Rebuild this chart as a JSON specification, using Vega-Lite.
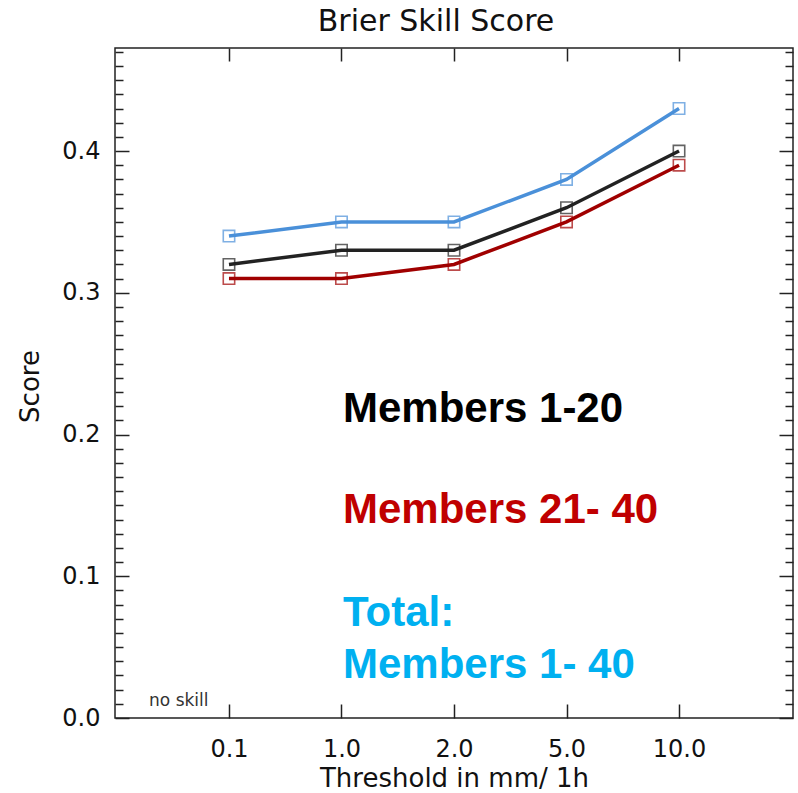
{
  "$schema": "https://vega.github.io/schema/vega-lite/v6.json",
  "width": 678,
  "height": 670,
  "autosize": "none",
  "padding": {"left": 115, "top": 48, "right": 5, "bottom": 75},
  "background": "white",
  "config": {
    "view": {"stroke": "#222", "strokeWidth": 1.5},
    "font": "DejaVu Sans"
  },
  "title": {
    "text": "Brier Skill Score",
    "font": "DejaVu Sans",
    "fontSize": 30,
    "fontWeight": "normal",
    "color": "#111",
    "anchor": "middle",
    "frame": "group",
    "dx": -18,
    "dy": 28,
    "offset": 14,
    "baseline": "alphabetic"
  },
  "data": {
    "values": [
      {"series": "Total", "idx": 0, "score": 0.34},
      {"series": "Total", "idx": 1, "score": 0.35},
      {"series": "Total", "idx": 2, "score": 0.35},
      {"series": "Total", "idx": 3, "score": 0.38},
      {"series": "Total", "idx": 4, "score": 0.43},
      {"series": "1-20", "idx": 0, "score": 0.32},
      {"series": "1-20", "idx": 1, "score": 0.33},
      {"series": "1-20", "idx": 2, "score": 0.33},
      {"series": "1-20", "idx": 3, "score": 0.36},
      {"series": "1-20", "idx": 4, "score": 0.40},
      {"series": "21-40", "idx": 0, "score": 0.31},
      {"series": "21-40", "idx": 1, "score": 0.31},
      {"series": "21-40", "idx": 2, "score": 0.32},
      {"series": "21-40", "idx": 3, "score": 0.35},
      {"series": "21-40", "idx": 4, "score": 0.39}
    ]
  },
  "resolve": {"axis": {"x": "independent", "y": "independent"}},
  "layer": [
    {
      "mark": {"type": "line", "strokeWidth": 3.5},
      "encoding": {
        "x": {
          "field": "idx",
          "type": "quantitative",
          "scale": {"domain": [-1.013, 5.013], "nice": false, "zero": false},
          "axis": {
            "orient": "bottom",
            "values": [0, 1, 2, 3, 4],
            "labelExpr": "['0.1','1.0','2.0','5.0','10.0'][datum.value]",
            "domain": false,
            "grid": false,
            "tickSize": -14,
            "tickColor": "#222",
            "tickWidth": 1.5,
            "labelPadding": 33,
            "labelFont": "DejaVu Sans",
            "labelFontSize": 24,
            "labelColor": "#111",
            "title": "Threshold in mm/ 1h",
            "titleFont": "DejaVu Sans",
            "titleFontSize": 26,
            "titleFontWeight": "normal",
            "titleColor": "#111",
            "titlePadding": 4
          }
        },
        "y": {
          "field": "score",
          "type": "quantitative",
          "scale": {"domain": [0, 0.4727], "nice": false},
          "axis": {
            "orient": "left",
            "values": [0, 0.01, 0.02, 0.03, 0.04, 0.05, 0.06, 0.07, 0.08, 0.09, 0.1, 0.11, 0.12, 0.13, 0.14, 0.15, 0.16, 0.17, 0.18, 0.19, 0.2, 0.21, 0.22, 0.23, 0.24, 0.25, 0.26, 0.27, 0.28, 0.29, 0.3, 0.31, 0.32, 0.33, 0.34, 0.35, 0.36, 0.37, 0.38, 0.39, 0.4, 0.41, 0.42, 0.43, 0.44, 0.45, 0.46, 0.47],
            "labelExpr": "round(datum.value * 100) % 10 == 0 ? format(datum.value, '.1f') : ''",
            "domain": false,
            "grid": false,
            "tickSize": {"condition": {"test": "round(datum.value * 100) % 10 == 0", "value": -14}, "value": -8},
            "tickColor": "#222",
            "tickWidth": 1.5,
            "labelPadding": 29,
            "labelFont": "DejaVu Sans",
            "labelFontSize": 24,
            "labelColor": "#111",
            "labelBaseline": "middle",
            "title": "Score",
            "titleFont": "DejaVu Sans",
            "titleFontSize": 26,
            "titleFontWeight": "normal",
            "titleColor": "#111",
            "titleAngle": -90,
            "titleAlign": "center",
            "titleBaseline": "middle",
            "titleX": -85,
            "titleY": 338
          }
        },
        "color": {
          "field": "series",
          "type": "nominal",
          "scale": {"domain": ["Total", "1-20", "21-40"], "range": ["#4a90d9", "#222222", "#a00000"]},
          "legend": null
        }
      }
    },
    {
      "mark": {"type": "point", "shape": "square", "filled": false, "size": 130, "strokeWidth": 1.6},
      "encoding": {
        "x": {
          "field": "idx",
          "type": "quantitative",
          "axis": {
            "orient": "top",
            "values": [0, 1, 2, 3, 4],
            "labels": false,
            "domain": false,
            "grid": false,
            "tickSize": -13,
            "tickColor": "#222",
            "tickWidth": 1.5,
            "title": null
          }
        },
        "y": {
          "field": "score",
          "type": "quantitative",
          "axis": {
            "orient": "right",
            "values": [0, 0.01, 0.02, 0.03, 0.04, 0.05, 0.06, 0.07, 0.08, 0.09, 0.1, 0.11, 0.12, 0.13, 0.14, 0.15, 0.16, 0.17, 0.18, 0.19, 0.2, 0.21, 0.22, 0.23, 0.24, 0.25, 0.26, 0.27, 0.28, 0.29, 0.3, 0.31, 0.32, 0.33, 0.34, 0.35, 0.36, 0.37, 0.38, 0.39, 0.4, 0.41, 0.42, 0.43, 0.44, 0.45, 0.46, 0.47],
            "labels": false,
            "domain": false,
            "grid": false,
            "tickSize": {"condition": {"test": "round(datum.value * 100) % 10 == 0", "value": -14}, "value": -8},
            "tickColor": "#222",
            "tickWidth": 1.5,
            "title": null
          }
        },
        "color": {
          "field": "series",
          "type": "nominal",
          "scale": {"domain": ["Total", "1-20", "21-40"], "range": ["#6aa8e8", "#333333", "#c03030"]},
          "legend": null
        }
      }
    },
    {
      "data": {
        "values": [
          {"label": "Members 1-20", "idx": 1.013, "score": 0.2088}
        ]
      },
      "mark": {"type": "text", "align": "left", "baseline": "alphabetic", "font": "Liberation Sans", "fontWeight": "bold", "fontSize": 42, "color": "#000000"},
      "encoding": {
        "x": {"field": "idx", "type": "quantitative", "axis": null},
        "y": {"field": "score", "type": "quantitative", "axis": null},
        "text": {"field": "label"}
      }
    },
    {
      "data": {
        "values": [
          {"label": "Members 21- 40", "idx": 1.013, "score": 0.1376}
        ]
      },
      "mark": {"type": "text", "align": "left", "baseline": "alphabetic", "font": "Liberation Sans", "fontWeight": "bold", "fontSize": 42, "color": "#c00000"},
      "encoding": {
        "x": {"field": "idx", "type": "quantitative", "axis": null},
        "y": {"field": "score", "type": "quantitative", "axis": null},
        "text": {"field": "label"}
      }
    },
    {
      "data": {
        "values": [
          {"label": "Total:", "idx": 1.013, "score": 0.0649},
          {"label": "Members 1- 40", "idx": 1.013, "score": 0.0282}
        ]
      },
      "mark": {"type": "text", "align": "left", "baseline": "alphabetic", "font": "Liberation Sans", "fontWeight": "bold", "fontSize": 42, "color": "#00b0f0"},
      "encoding": {
        "x": {"field": "idx", "type": "quantitative", "axis": null},
        "y": {"field": "score", "type": "quantitative", "axis": null},
        "text": {"field": "label"}
      }
    },
    {
      "data": {
        "values": [
          {"label": "no skill", "idx": -0.71, "score": 0.0085}
        ]
      },
      "mark": {"type": "text", "align": "left", "baseline": "alphabetic", "font": "DejaVu Sans", "fontSize": 17, "color": "#333333"},
      "encoding": {
        "x": {"field": "idx", "type": "quantitative", "axis": null},
        "y": {"field": "score", "type": "quantitative", "axis": null},
        "text": {"field": "label"}
      }
    }
  ]
}
